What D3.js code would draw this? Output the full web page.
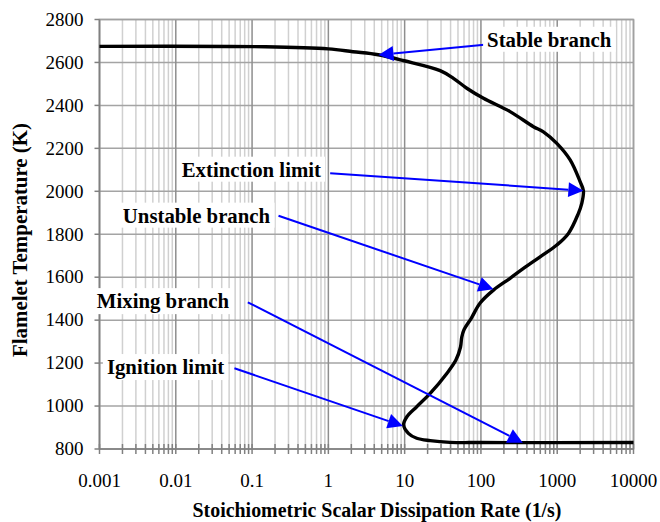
<!DOCTYPE html>
<html>
<head>
<meta charset="utf-8">
<script src="https://cdn.jsdelivr.net/npm/d3@7"></script>
<style>
  html, body { margin: 0; padding: 0; background: #fff; }
  svg { display: block; }
  text { font-family: "Liberation Serif", "Times New Roman", serif; }
</style>
</head>
<body>
<svg id="chart" width="660" height="522"></svg>
<script>
// S-curve of flamelet temperature vs. stoichiometric scalar dissipation rate
const chiValues = [0.001, 0.15, 1.0, 2.1, 4.5, 9.85, 29.2, 43.6, 65.3, 108, 241, 488, 659, 988, 1477, 1995, 2205,
                   2099, 1879, 1403, 988, 597, 361, 241, 146, 97.6, 75, 60, 56, 54, 47, 35.7, 21.6, 14.4, 10.7, 9.7,
                   11.2, 14.4, 21.6, 39.4, 100, 10000];
const tempValues = [2675, 2673, 2663, 2650, 2636, 2608, 2562, 2526, 2480, 2433, 2371, 2301, 2277, 2223, 2146, 2045, 2003,
                    1944, 1894, 1804, 1750, 1695, 1641, 1595, 1540, 1480, 1410, 1355, 1320, 1275, 1214, 1152, 1059, 997, 950, 912,
                    873, 850, 839, 831, 830, 830];

const xTickValues = [0.001, 0.01, 0.1, 1, 10, 100, 1000, 10000];
const xTickLabels = ["0.001", "0.01", "0.1", "1", "10", "100", "1000", "10000"];
const yTickValues = [800, 1000, 1200, 1400, 1600, 1800, 2000, 2200, 2400, 2600, 2800];

// Annotations: label text, label anchor point (chi, T), arrow start and arrow tip (chi, T)
const noteTexts   = ["Stable branch", "Extinction limit", "Unstable branch", "Mixing branch", "Ignition limit"];
const noteLabelAt = [[120.5, 2673], [0.80, 2068], [0.1726, 1854], [0.0501, 1456], [0.0431, 1149]];
const noteAnchor  = ["start", "end", "end", "end", "end"];
const noteFrom    = [[119.5, 2684], [1.056, 2084], [0.222, 1886], [0.088, 1483], [0.0587, 1176]];
const noteTo      = [[4.54, 2635], [2203, 2003], [146, 1544], [354, 829], [9.47, 907]];

const svg = d3.select("#chart");
const plotLeft = 99.5, plotRight = 633.5, plotTop = 19.5, plotBottom = 449;

const x = d3.scaleLog().domain([0.001, 10000]).range([plotLeft, plotRight]);
const y = d3.scaleLinear().domain([800, 2800]).range([plotBottom, plotTop]);

// minor decade grid
const minorVals = [];
for (let e = -3; e < 4; e++) {
  for (let m = 2; m <= 9; m++) minorVals.push(m * Math.pow(10, e));
}
const grid = svg.append("g");
grid.selectAll("line.minor").data(minorVals).join("line")
  .attr("x1", d => x(d)).attr("x2", d => x(d))
  .attr("y1", plotTop).attr("y2", plotBottom)
  .attr("stroke", "#d0d0d0").attr("stroke-width", 1.5);
grid.selectAll("line.hz").data(yTickValues).join("line")
  .attr("x1", plotLeft).attr("x2", plotRight)
  .attr("y1", d => y(d)).attr("y2", d => y(d))
  .attr("stroke", "#a4a4a4").attr("stroke-width", 1.5);
grid.selectAll("line.major").data(xTickValues).join("line")
  .attr("x1", d => x(d)).attr("x2", d => x(d))
  .attr("y1", plotTop).attr("y2", plotBottom)
  .attr("stroke", "#8e8e8e").attr("stroke-width", 1.5);

// plot frame
svg.append("rect").attr("x", plotLeft).attr("y", plotTop)
  .attr("width", plotRight - plotLeft).attr("height", plotBottom - plotTop)
  .attr("fill", "none").attr("stroke", "#a0a0a0").attr("stroke-width", 1.5);

// axes
const xAxis = svg.append("g").attr("transform", `translate(0,${plotBottom})`);
xAxis.selectAll("line.tk").data(xTickValues.concat(minorVals)).join("line")
  .attr("x1", d => x(d)).attr("x2", d => x(d))
  .attr("y1", -5).attr("y2", 5)
  .attr("stroke", "#808080").attr("stroke-width", 1.5);
xAxis.append("line").attr("x1", plotLeft).attr("x2", plotRight).attr("stroke", "#808080").attr("stroke-width", 1.5);
xAxis.selectAll("text").data(xTickValues).join("text")
  .attr("x", d => x(d)).attr("y", 38)
  .attr("text-anchor", "middle").attr("font-size", 19).attr("fill", "#000")
  .text((d, i) => xTickLabels[i]);

const yAxis = svg.append("g").attr("transform", `translate(${plotLeft},0)`);
yAxis.append("line").attr("y1", plotTop).attr("y2", plotBottom).attr("stroke", "#808080").attr("stroke-width", 1.5);
yAxis.selectAll("line.tk").data(yTickValues).join("line")
  .attr("x1", -5).attr("x2", 0)
  .attr("y1", d => y(d)).attr("y2", d => y(d))
  .attr("stroke", "#808080").attr("stroke-width", 1.5);
yAxis.selectAll("text").data(yTickValues).join("text")
  .attr("x", -16).attr("y", d => y(d)).attr("dy", "0.33em")
  .attr("text-anchor", "end").attr("font-size", 19).attr("fill", "#000")
  .text(d => d);

// axis titles (condensed bold serif)
svg.append("text")
  .attr("x", 377).attr("y", 517)
  .attr("text-anchor", "middle").attr("font-size", 20).attr("font-weight", "bold")
  .attr("textLength", 369).attr("lengthAdjust", "spacingAndGlyphs")
  .text("Stoichiometric Scalar Dissipation Rate (1/s)");
svg.append("text")
  .attr("transform", "translate(27,240) rotate(-90)")
  .attr("text-anchor", "middle").attr("font-size", 20.5).attr("font-weight", "bold")
  .attr("textLength", 234).attr("lengthAdjust", "spacingAndGlyphs")
  .text("Flamelet Temperature (K)");

// curve
const pts = chiValues.map((c, i) => [c, tempValues[i]]);
const line = d3.line().x(d => x(d[0])).y(d => y(d[1])).curve(d3.curveCatmullRom.alpha(0.5));
svg.append("path").datum(pts)
  .attr("d", line)
  .attr("fill", "none").attr("stroke", "#000").attr("stroke-width", 3.4)
  .attr("stroke-linejoin", "round").attr("stroke-linecap", "butt");

// annotation arrows
const notes = svg.append("g");
const headLen = 15, headHalf = 7.5;
noteTexts.forEach((t, i) => {
  const x0 = x(noteFrom[i][0]), y0 = y(noteFrom[i][1]);
  const x1 = x(noteTo[i][0]), y1 = y(noteTo[i][1]);
  const ang = Math.atan2(y1 - y0, x1 - x0);
  const bx = x1 - headLen * Math.cos(ang), by = y1 - headLen * Math.sin(ang);
  notes.append("line")
    .attr("x1", x0).attr("y1", y0).attr("x2", bx).attr("y2", by)
    .attr("stroke", "#0000ff").attr("stroke-width", 2);
  const px = -Math.sin(ang) * headHalf, py = Math.cos(ang) * headHalf;
  notes.append("path")
    .attr("d", `M${x1},${y1}L${bx + px},${by + py}L${bx - px},${by - py}Z`)
    .attr("fill", "#0000ff");
});

// annotation labels with white boxes
noteTexts.forEach((t, i) => {
  const g = notes.append("g");
  const txt = g.append("text")
    .attr("x", x(noteLabelAt[i][0])).attr("y", y(noteLabelAt[i][1]))
    .attr("text-anchor", noteAnchor[i])
    .attr("font-size", 20.8).attr("font-weight", "bold").attr("fill", "#000")
    .text(t);
  const bb = txt.node().getBBox();
  g.insert("rect", "text")
    .attr("x", bb.x - 4).attr("y", bb.y - 1)
    .attr("width", bb.width + 8).attr("height", bb.height + 2)
    .attr("fill", "#fff");
});
</script>
</body>
</html>
